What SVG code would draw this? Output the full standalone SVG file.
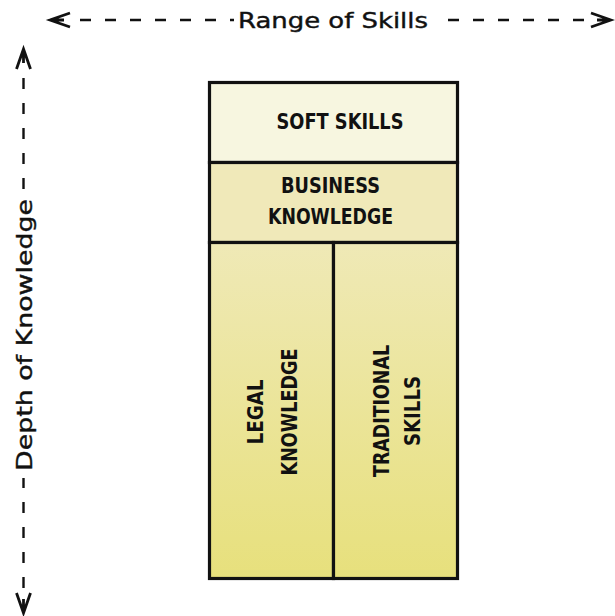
<svg xmlns="http://www.w3.org/2000/svg" width="615" height="616" viewBox="0 0 615 616">
  <style>
    .axis { fill: none; stroke: #111; stroke-width: 2.4; stroke-dasharray: 11 14; }
    .axis-label { font-family: "DejaVu Sans", "Liberation Sans", sans-serif; font-size: 21px; fill: #111; stroke: #111; stroke-width: 0.4; }
    .box { stroke: #111; stroke-width: 3.2; }
    .label { font-family: "Liberation Sans Narrow", "DejaVu Sans Condensed", "Liberation Sans", sans-serif; font-weight: bold; font-size: 22px; fill: #111; text-anchor: middle; }
    .head { fill: none; stroke: #111; stroke-width: 2.8; stroke-linejoin: miter; }
  </style>
  <defs>
    <linearGradient id="colFill" x1="0" y1="243" x2="0" y2="579" gradientUnits="userSpaceOnUse">
      <stop offset="0" stop-color="#efe9b6"/>
      <stop offset="1" stop-color="#e7e07c"/>
    </linearGradient>
  </defs>

  <rect width="615" height="616" fill="#fff"/>

  <!-- axes -->
  <g id="connectors">
    <!-- horizontal: range of skills -->
    <line class="axis" x1="80" y1="20" x2="234" y2="20"/>
    <line class="axis" x1="584" y1="20" x2="436" y2="20"/>
    <path class="head" d="M70,13 L50,20 L70,27 M50,20 H64"/>
    <path class="head" d="M591,13 L611,20 L591,27 M611,20 H597"/>
    <!-- vertical: depth of knowledge -->
    <line class="axis" x1="23.5" y1="78" x2="23.5" y2="192"/>
    <line class="axis" x1="23.5" y1="588" x2="23.5" y2="478"/>
    <path class="head" d="M16.5,69 L23.5,49 L30.5,69 M23.5,49 V63"/>
    <path class="head" d="M16.5,593 L23.5,613 L30.5,593 M23.5,613 V599"/>
  </g>

  <g id="axis-range">
    <text class="axis-label" x="333" y="28" text-anchor="middle" textLength="190" lengthAdjust="spacingAndGlyphs">Range of Skills</text>
  </g>
  <g id="axis-depth">
    <text class="axis-label" transform="translate(32,335) rotate(-90)" text-anchor="middle" textLength="272" lengthAdjust="spacingAndGlyphs">Depth of Knowledge</text>
  </g>

  <!-- skill blocks -->
  <g id="soft-skills">
    <rect class="box" x="209.5" y="82.5" width="248" height="80" fill="#f7f6e0"/>
    <text class="label" x="340" y="129" textLength="127" lengthAdjust="spacingAndGlyphs">SOFT SKILLS</text>
  </g>
  <g id="business-knowledge">
    <rect class="box" x="209.5" y="162.5" width="248" height="80" fill="#f0e9b9"/>
    <text class="label" x="330.5" y="193" textLength="99" lengthAdjust="spacingAndGlyphs">BUSINESS</text>
    <text class="label" x="330.5" y="224" textLength="125" lengthAdjust="spacingAndGlyphs">KNOWLEDGE</text>
  </g>
  <g id="legal-knowledge">
    <rect class="box" x="209.5" y="242.5" width="124" height="336" fill="url(#colFill)"/>
    <g transform="translate(271,412) rotate(-90)">
      <text class="label" x="0" y="-8" textLength="65" lengthAdjust="spacingAndGlyphs">LEGAL</text>
      <text class="label" x="0" y="26" textLength="127" lengthAdjust="spacingAndGlyphs">KNOWLEDGE</text>
    </g>
  </g>
  <g id="traditional-skills">
    <rect class="box" x="333.5" y="242.5" width="124" height="336" fill="url(#colFill)"/>
    <g transform="translate(395,411) rotate(-90)">
      <text class="label" x="0" y="-6" textLength="132" lengthAdjust="spacingAndGlyphs">TRADITIONAL</text>
      <text class="label" x="0" y="25" textLength="70" lengthAdjust="spacingAndGlyphs">SKILLS</text>
    </g>
  </g>
</svg>
